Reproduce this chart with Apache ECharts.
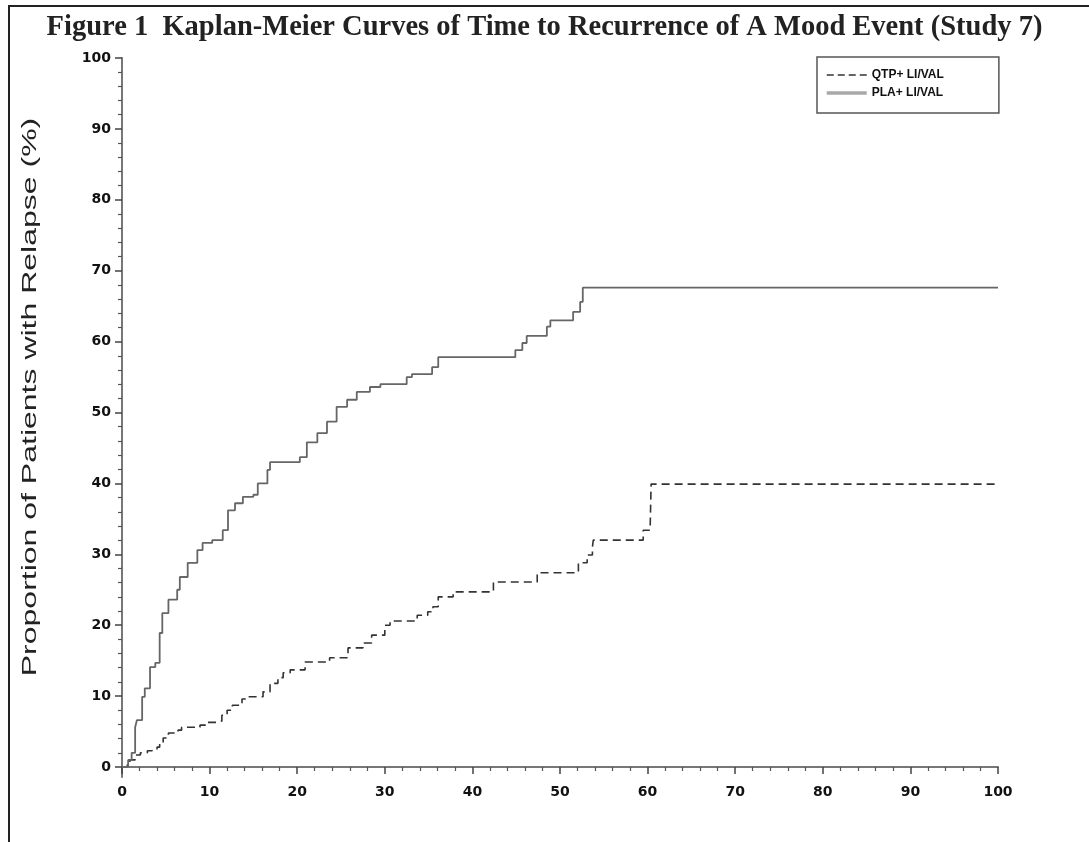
<!DOCTYPE html>
<html>
<head>
<meta charset="utf-8">
<script src="https://cdn.jsdelivr.net/npm/echarts@6/dist/echarts.min.js"></script>
<style>
html,body{margin:0;padding:0;background:#fff;}
#chart{width:1089px;height:842px;}
</style>
</head>
<body>
<div id="chart"></div>
<script>
// ---- data (time, proportion with relapse in %) ----
var plaTime  = [0, 0.7, 1.1, 1.5, 1.7, 2.3, 2.6, 3.2, 3.8, 4.3, 4.6, 5.3, 6.3, 6.6, 7.5, 8.6, 9.2, 10.3, 11.5, 12.1, 12.9, 13.8, 15.0, 15.5, 16.6, 16.9, 20.3, 21.1, 22.3, 23.4, 24.5, 25.7, 26.8, 28.3, 29.5, 32.5, 33.1, 35.4, 36.1, 44.9, 45.7, 46.2, 48.5, 48.9, 51.5, 52.3, 52.6, 100];
var plaValue = [0, 1.0, 2.0, 5.6, 6.6, 9.9, 11.1, 14.1, 14.7, 18.9, 21.7, 23.6, 25.0, 26.8, 28.8, 30.6, 31.6, 32.0, 33.4, 36.2, 37.2, 38.1, 38.4, 40.0, 41.9, 43.0, 43.7, 45.8, 47.1, 48.7, 50.8, 51.8, 52.9, 53.6, 54.0, 55.0, 55.4, 56.4, 57.8, 58.8, 59.8, 60.8, 62.1, 63.0, 64.2, 65.6, 67.6, 67.6];
var qtpTime  = [0, 0.6, 0.9, 1.5, 2.1, 2.9, 3.4, 4.0, 4.3, 4.7, 5.3, 6.4, 6.8, 8.9, 9.5, 11.0, 11.4, 12.0, 12.6, 13.7, 14.4, 16.1, 16.9, 17.8, 18.4, 19.2, 20.9, 23.7, 25.8, 27.5, 28.5, 30.0, 30.6, 33.7, 34.9, 35.5, 36.1, 37.8, 42.4, 47.4, 52.1, 53.1, 53.7, 53.8, 59.5, 60.3, 60.4, 100];
var qtpValue = [0, 0.3, 1.0, 1.7, 2.0, 2.3, 2.4, 2.8, 3.4, 4.1, 4.8, 5.2, 5.6, 5.9, 6.3, 6.5, 7.3, 8.0, 8.7, 9.6, 9.9, 10.6, 11.8, 12.6, 13.3, 13.7, 14.8, 15.4, 16.8, 17.5, 18.6, 20.0, 20.6, 21.4, 21.9, 22.6, 24.0, 24.7, 26.1, 27.4, 28.8, 29.9, 31.0, 32.0, 33.4, 34.1, 39.9, 39.9];
var seriesNames = ['QTP+ LI/VAL', 'PLA+ LI/VAL'];
var yMajorTicks = [0, 10, 20, 30, 40, 50, 60, 70, 80, 90, 100];
var yMinorTicks = [2, 4, 6, 8, 12, 14, 16, 18, 22, 24, 26, 28, 32, 34, 36, 38, 42, 44, 46, 48, 52, 54, 56, 58, 62, 64, 66, 68, 72, 74, 76, 78, 82, 84, 86, 88, 92, 94, 96, 98];
var titleText = 'Figure 1  Kaplan-Meier Curves of Time to Recurrence of A Mood Event (Study 7)';
var yTitleText = 'Proportion of Patients with Relapse (%)';

function pairs(xs, ys) { return xs.map(function (x, i) { return [x, ys[i]]; }); }

var chart = echarts.init(document.getElementById('chart'));
var tickFont = { fontFamily: 'DejaVu Sans', fontWeight: 'bold', fontSize: 14, color: '#111' };
var yMin = -1.41;

chart.setOption({
  animation: false,
  backgroundColor: '#fff',
  title: {
    text: titleText,
    left: 'center',
    top: 13,
    padding: 0,
    textStyle: { fontFamily: 'Liberation Serif', fontWeight: 'bold', fontSize: 28.5, color: '#222' }
  },
  grid: { left: 122, right: 91, top: 58, bottom: 65, containLabel: false },
  legend: {
    orient: 'vertical',
    left: 817,
    top: 57,
    padding: [12, 55, 14, 8],
    itemWidth: 40,
    itemHeight: 12,
    itemGap: 6,
    borderColor: '#555',
    borderWidth: 1.5,
    itemStyle: { opacity: 0 },
    data: [
      { name: seriesNames[0], lineStyle: { color: '#333', width: 1.6, type: [7, 4] } },
      { name: seriesNames[1], lineStyle: { color: '#a8a8a8', width: 3.5, type: 'solid' } }
    ],
    textStyle: { fontFamily: 'Liberation Sans', fontWeight: 'bold', fontSize: 12, color: '#111' }
  },
  xAxis: {
    type: 'value',
    min: 0,
    max: 100,
    interval: 10,
    axisLine: { show: true, lineStyle: { color: '#777', width: 2 } },
    axisTick: { show: true, length: 7, lineStyle: { color: '#444', width: 1.5 } },
    minorTick: { show: true, splitNumber: 5, length: 4, lineStyle: { color: '#555', width: 1.2 } },
    axisLabel: Object.assign({ margin: 8 }, tickFont),
    splitLine: { show: false }
  },
  yAxis: [
    {
      type: 'value',
      min: yMin,
      max: 100,
      axisLine: { show: true, lineStyle: { color: '#777', width: 2 } },
      axisTick: { show: true, length: 7, customValues: yMajorTicks, lineStyle: { color: '#444', width: 1.5 } },
      axisLabel: Object.assign({ margin: 11, customValues: yMajorTicks }, tickFont),
      splitLine: { show: false }
    },
    {
      type: 'value',
      min: yMin,
      max: 100,
      position: 'left',
      axisLine: { show: false },
      axisTick: { show: true, length: 4, customValues: yMinorTicks, lineStyle: { color: '#555', width: 1.2 } },
      axisLabel: { show: false },
      splitLine: { show: false }
    }
  ],
  graphic: [
    {
      type: 'rect',
      silent: true,
      shape: { x: 9, y: 6, width: 1200, height: 900 },
      style: { fill: 'none', stroke: '#222', lineWidth: 2 }
    },
    {
      type: 'text',
      silent: true,
      x: 30,
      y: 397,
      rotation: Math.PI / 2,
      scaleX: 1.6,
      style: {
        text: yTitleText,
        x: 0,
        y: 0,
        align: 'center',
        verticalAlign: 'middle',
        font: '20px "Liberation Sans"',
        fill: '#222'
      }
    }
  ],
  series: [
    {
      name: seriesNames[0],
      type: 'line',
      step: 'end',
      symbol: 'none',
      data: pairs(qtpTime, qtpValue),
      lineStyle: { color: '#333', width: 1.6, type: [8, 5] },
      itemStyle: { color: '#333' }
    },
    {
      name: seriesNames[1],
      type: 'line',
      step: 'end',
      symbol: 'none',
      data: pairs(plaTime, plaValue),
      lineStyle: { color: '#666', width: 1.8, type: 'solid' },
      itemStyle: { color: '#999' }
    }
  ]
});
</script>
</body>
</html>
